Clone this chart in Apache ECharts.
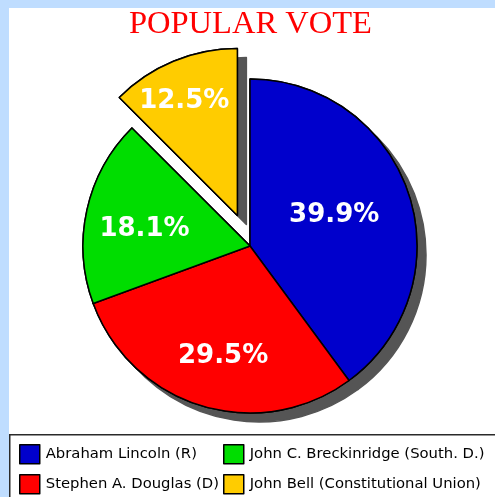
<!DOCTYPE html>
<html>
<head>
<meta charset="utf-8">
<script src="https://cdn.jsdelivr.net/npm/echarts@6/dist/echarts.min.js"></script>
<style>
html,body{margin:0;padding:0;background:#BFDDFF;}
#main{width:495px;height:497px;}
</style>
</head>
<body>
<div id="main"></div>
<script>
// ---- data ----
const titleText = 'POPULAR VOTE';
const categories = ['Abraham Lincoln (R)', 'Stephen A. Douglas (D)', 'John C. Breckinridge (South. D.)', 'John Bell (Constitutional Union)'];
const votePercent = [39.9, 29.5, 18.1, 12.5];
const exploded = [false, false, false, true];
const legendColumn1 = [categories[0], categories[1]];
const legendColumn2 = [categories[2], categories[3]];

// ---- styles ----
const colors = ['#0000CC', '#FF0000', '#00DD00', '#FFCC00'];
const labelNudges = [[2, -4], [-2, 27], [-21, 2], [-20, -34]];

const chart = echarts.init(document.getElementById('main'), null, {renderer: 'canvas'});

function makeData() {
  return categories.map((name, i) => ({
    name: name,
    value: votePercent[i],
    selected: exploded[i],
    itemStyle: {color: colors[i]}
  }));
}

const pieBase = {
  type: 'pie',
  center: [250, 246],
  radius: 167,
  startAngle: 90,
  clockwise: true,
  selectedMode: 'single',
  selectedOffset: 33,
  avoidLabelOverlap: false,
  animation: false,
  emphasis: {disabled: true}
};

const legendCommon = {
  orient: 'vertical',
  top: 444,
  padding: 0,
  itemWidth: 20,
  itemHeight: 19,
  itemGap: 9.5,
  icon: 'rect',
  selectedMode: false,
  textStyle: {fontFamily: 'DejaVu Sans', fontSize: 14.8, color: '#000', padding: [0, 0, 0, 1]},
  itemStyle: {borderColor: '#000', borderWidth: 1.5, shadowBlur: 0, shadowOffsetX: 0, shadowOffsetY: 0, shadowColor: 'rgba(0,0,0,0)'}
};

const option = {
  backgroundColor: '#BFDDFF',
  animation: false,
  graphic: [
    {type: 'rect', z: -10, shape: {x: 9, y: 8, width: 490, height: 495}, style: {fill: '#FFFFFF'}, silent: true},
    {type: 'rect', z: -5, shape: {x: 9.75, y: 434.75, width: 500, height: 100}, style: {fill: 'rgba(0,0,0,0)', stroke: '#2a2a2a', lineWidth: 1.5}, silent: true}
  ],
  title: {
    text: titleText,
    left: 129,
    top: 8,
    padding: 0,
    textStyle: {fontFamily: 'Liberation Serif', fontSize: 32.5, fontWeight: 'normal', color: '#FF0000'}
  },
  legend: [
    Object.assign({}, legendCommon, {left: 19, data: legendColumn1}),
    Object.assign({}, legendCommon, {left: 223, data: legendColumn2})
  ],
  series: [
    Object.assign({}, pieBase, {
      name: 'shadow',
      z: 1,
      silent: true,
      label: {show: false},
      labelLine: {show: false},
      itemStyle: {borderColor: '#000', borderWidth: 1.5, shadowColor: '#555555', shadowBlur: 0, shadowOffsetX: 9, shadowOffsetY: 9},
      data: makeData()
    }),
    Object.assign({}, pieBase, {
      name: 'Popular vote',
      z: 2,
      itemStyle: {borderColor: '#000', borderWidth: 1.5},
      select: {itemStyle: {borderColor: '#000', borderWidth: 1.5}},
      label: {
        show: true,
        position: 'inner',
        formatter: '{c}%',
        color: '#FFFFFF',
        fontFamily: 'DejaVu Sans',
        fontWeight: 'bold',
        fontSize: 26
      },
      labelLine: {show: false},
      labelLayout: function (params) {
        const n = labelNudges[params.dataIndex];
        return {dx: n[0], dy: n[1]};
      },
      data: makeData()
    })
  ]
};

chart.setOption(option);
</script>
</body>
</html>
